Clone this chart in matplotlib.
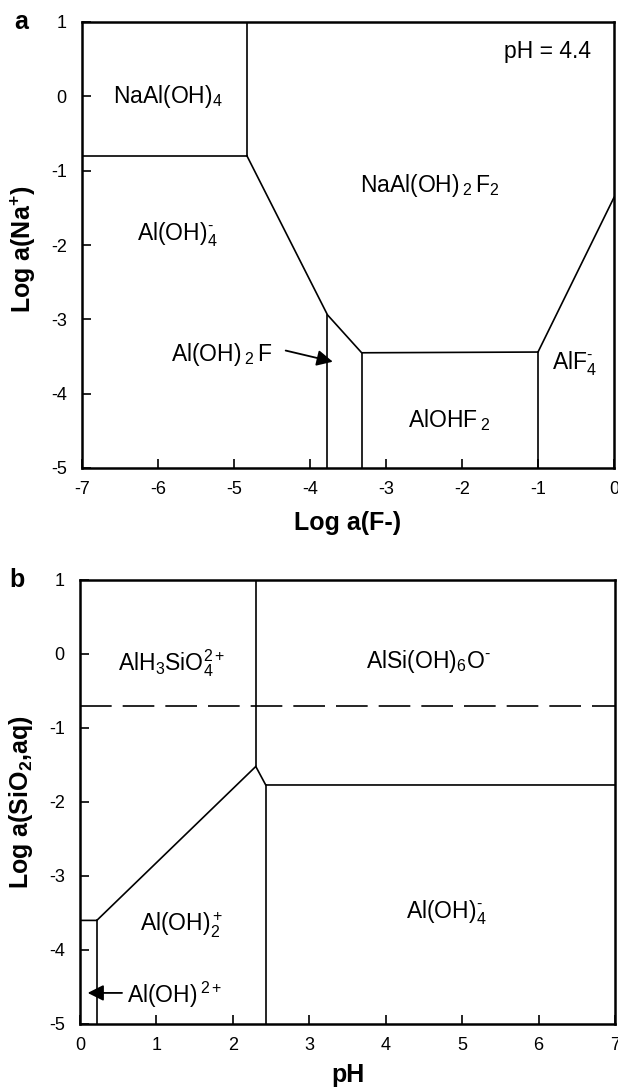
import matplotlib
matplotlib.use("Agg")
import matplotlib.pyplot as plt

plt.rcParams['font.family'] = ['Liberation Sans', 'DejaVu Sans']
plt.rcParams['mathtext.fontset'] = 'custom'
plt.rcParams['mathtext.rm'] = 'Liberation Sans'
plt.rcParams['mathtext.it'] = 'Liberation Sans'
plt.rcParams['mathtext.bf'] = 'Liberation Sans:bold'
plt.rcParams['mathtext.default'] = 'regular'

# ---------------- Panel a data ----------------
a_xlim = (-7, 0)
a_ylim = (-5, 1)
a_xticks = [-7, -6, -5, -4, -3, -2, -1, 0]
a_yticks = [1, 0, -1, -2, -3, -4, -5]
# field boundaries (x list, y list)
a_b1_x = [-4.83, -4.83]; a_b1_y = [1, -0.8]
a_b2_x = [-7, -4.83];    a_b2_y = [-0.8, -0.8]
a_b3_x = [-4.83, -3.77, -3.32, -1.0, 0]; a_b3_y = [-0.8, -2.94, -3.45, -3.44, -1.36]
a_b4_x = [-3.77, -3.77]; a_b4_y = [-2.94, -5]
a_b5_x = [-3.32, -3.32]; a_b5_y = [-3.45, -5]
a_b6_x = [-1.0, -1.0];   a_b6_y = [-3.44, -5]
a_labels = ["NaAl(OH)$_4$", "NaAl(OH)$\\,_2\\,$F$_2$", "Al(OH)$_4^{\\text{-}}$",
            "AlOHF$\\,_2$", "AlF$_4^{\\text{-}}$", "pH = 4.4"]
a_label_x = [-5.87, -2.43, -5.74, -2.17, -0.52, -0.88]
a_label_y = [0.0, -1.2, -1.86, -4.36, -3.6, 0.6]
a_arrow_text = "Al(OH)$\\,_2\\,$F"
a_arrow_text_xy = (-5.17, -3.47)
a_arrow_tail = (-4.32, -3.42)
a_arrow_head = (-3.70, -3.57)

# ---------------- Panel b data ----------------
b_xlim = (0, 7)
b_ylim = (-5, 1)
b_xticks = [0, 1, 2, 3, 4, 5, 6, 7]
b_yticks = [1, 0, -1, -2, -3, -4, -5]
b_b1_x = [2.3, 2.3];   b_b1_y = [1, -1.52]
b_b2_x = [0, 0.22, 2.3, 2.43, 7]; b_b2_y = [-3.6, -3.6, -1.52, -1.77, -1.77]
b_b3_x = [0.22, 0.22]; b_b3_y = [-3.6, -5]
b_b4_x = [2.43, 2.43]; b_b4_y = [-1.77, -5]
b_dash_x = [0, 7];     b_dash_y = [-0.7, -0.7]
b_labels = ["AlH$_3$SiO$_4^{2+}$", "AlSi(OH)$_6$O$^{\\text{-}}$", "Al(OH)$_2^+$",
            "Al(OH)$_4^{\\text{-}}$"]
b_label_x = [1.2, 4.56, 1.33, 4.79]
b_label_y = [-0.12, -0.1, -3.66, -3.5]
b_arrow_text = "Al(OH)$\\,^{2+}$"
b_arrow_text_xy = (0.61, -4.6)
b_arrow_tail = (0.55, -4.58)
b_arrow_head = (0.1, -4.58)

W, H = 618, 1089
fig = plt.figure(figsize=(W / 100, H / 100), dpi=100)

LW = 1.2
TICK_FS = 13
LAB_FS = 16.5
AX_FS = 18


def style(ax, xlim, ylim, xticks, yticks):
    ax.set_xlim(*xlim)
    ax.set_ylim(*ylim)
    ax.set_xticks(xticks)
    ax.set_yticks(yticks)
    ax.set_xticklabels([str(t) for t in xticks])
    ax.set_yticklabels([str(t) for t in yticks])
    for s in ax.spines.values():
        s.set_linewidth(1.8)
    ax.tick_params(direction='in', length=6.5, width=1.2, labelsize=TICK_FS,
                   top=False, right=False)
    ax.tick_params(axis='x', pad=9)
    ax.tick_params(axis='y', pad=11)


# Panel a
axa = fig.add_axes([82 / W, 1 - 468 / H, 532 / W, 446 / H])
style(axa, a_xlim, a_ylim, a_xticks, a_yticks)
for xs, ys in [(a_b1_x, a_b1_y), (a_b2_x, a_b2_y), (a_b3_x, a_b3_y),
               (a_b4_x, a_b4_y), (a_b5_x, a_b5_y), (a_b6_x, a_b6_y)]:
    axa.plot(xs, ys, color='black', lw=LW, solid_joinstyle='miter')
for t, x, y in zip(a_labels, a_label_x, a_label_y):
    axa.text(x, y, t, fontsize=LAB_FS, ha='center', va='center')
axa.text(*a_arrow_text_xy, a_arrow_text, fontsize=LAB_FS, ha='center', va='center')
axa.annotate('', xy=a_arrow_head, xytext=a_arrow_tail,
             arrowprops=dict(arrowstyle='-|>', color='black', lw=1.3,
                             mutation_scale=24, shrinkA=0, shrinkB=0))
axa.set_xlabel('Log a(F-)', fontsize=AX_FS, fontweight='bold')
axa.set_ylabel('Log a(Na$^{+}$)', fontsize=AX_FS, fontweight='bold')
axa.xaxis.set_label_coords(0.5, -0.123)
axa.xaxis.label.set_va('center')
axa.yaxis.set_label_coords(-0.111, 0.49)
axa.yaxis.label.set_va('center')

# Panel b
axb = fig.add_axes([80 / W, 1 - 1024 / H, 535 / W, 444 / H])
style(axb, b_xlim, b_ylim, b_xticks, b_yticks)
for xs, ys in [(b_b1_x, b_b1_y), (b_b2_x, b_b2_y), (b_b3_x, b_b3_y), (b_b4_x, b_b4_y)]:
    axb.plot(xs, ys, color='black', lw=LW, solid_joinstyle='miter')
axb.plot(b_dash_x, b_dash_y, color='black', lw=LW, dashes=(19, 6.6))
for t, x, y in zip(b_labels, b_label_x, b_label_y):
    axb.text(x, y, t, fontsize=LAB_FS, ha='center', va='center')
axb.text(*b_arrow_text_xy, b_arrow_text, fontsize=LAB_FS, ha='left', va='center')
axb.annotate('', xy=b_arrow_head, xytext=b_arrow_tail,
             arrowprops=dict(arrowstyle='-|>', color='black', lw=1.3,
                             mutation_scale=24, shrinkA=0, shrinkB=0))
axb.set_xlabel('pH', fontsize=AX_FS, fontweight='bold')
axb.set_ylabel('Log a(SiO$_2$,aq)', fontsize=AX_FS, fontweight='bold')
axb.xaxis.set_label_coords(0.5, -0.115)
axb.xaxis.label.set_va('center')
axb.yaxis.set_label_coords(-0.11, 0.5)
axb.yaxis.label.set_va('center')

fig.text(21 / W, 1 - 22 / H, 'a', fontsize=AX_FS, fontweight='bold', ha='center', va='center')
fig.text(17 / W, 1 - 580 / H, 'b', fontsize=AX_FS, fontweight='bold', ha='center', va='center')

fig.savefig('out.png', dpi=100)
